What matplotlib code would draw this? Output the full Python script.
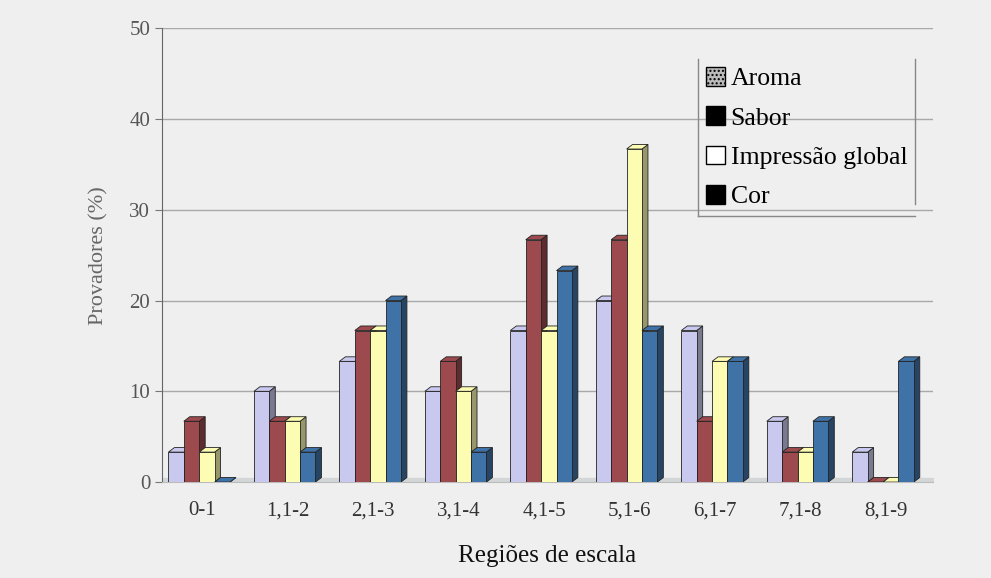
import numpy as np
import matplotlib.pyplot as plt
from matplotlib.patches import Polygon, Patch
from matplotlib.lines import Line2D
import matplotlib.colors as mcolors

# data
regioes = ['0-1', '1,1-2', '2,1-3', '3,1-4', '4,1-5', '5,1-6', '6,1-7', '7,1-8', '8,1-9']
aroma = [3.3, 10.0, 13.3, 10.0, 16.7, 20.0, 16.7, 6.7, 3.3]
sabor = [6.7, 6.7, 16.7, 13.3, 26.7, 26.7, 6.7, 3.3, 0.0]
impressao = [3.3, 6.7, 16.7, 10.0, 16.7, 36.7, 13.3, 3.3, 0.0]
cor = [0.0, 3.3, 20.0, 3.3, 23.3, 16.7, 13.3, 6.7, 13.3]
series_names = ['Aroma', 'Sabor', 'Impressão global', 'Cor']

plt.rcParams['font.family'] = ['Liberation Serif', 'DejaVu Serif']

bg = '#efefef'
fig = plt.figure(figsize=(9.91, 5.78), dpi=100, facecolor=bg)
ax = fig.add_axes([0.1635, 0.166, 0.778, 0.785], facecolor=bg)

colors = ['#c9c9f0', '#9c4a4e', '#fcfcb2', '#3f73a8']
series = [aroma, sabor, impressao, cor]
x = np.arange(len(regioes))
w = 0.18
dx, dy = 0.07, 0.5

for i, (vals, c) in enumerate(zip(series, colors)):
    x0 = x - 2 * w + i * w - dx / 2
    dark = np.array(mcolors.to_rgb(c)) * 0.6
    for xs, h in zip(x0, vals):
        z = 3 + i
        side = Polygon([(xs + w, 0), (xs + w + dx, dy), (xs + w + dx, h + dy), (xs + w, h)],
                       closed=True, facecolor=dark, edgecolor='#222222', lw=0.6, zorder=z)
        top = Polygon([(xs, h), (xs + dx, h + dy), (xs + w + dx, h + dy), (xs + w, h)],
                      closed=True, facecolor=c, edgecolor='#222222', lw=0.6, zorder=z)
        ax.add_patch(side)
        ax.add_patch(top)
    ax.bar(x0, vals, width=w, align='edge', color=c, edgecolor='#222222',
           linewidth=0.6, zorder=3 + i + 0.01)

# floor
ax.fill_between([-0.47, 8.55], [0, 0], [0.5, 0.5], color='#d2d6d6', zorder=2)

ax.set_xlim(-0.47, 8.55)
ax.set_ylim(0, 50)
ax.set_yticks([0, 10, 20, 30, 40, 50])
ax.set_xticks(x)
ax.set_xticklabels(regioes, fontsize=15, color='#333333')
ax.tick_params(axis='y', labelsize=15, labelcolor='#555555', length=5, color='#777777')
ax.tick_params(axis='x', length=0, pad=14)
ax.yaxis.grid(True, color='#a8a8a8', linewidth=1.0, zorder=1)
ax.set_axisbelow(True)
for s in ['top', 'right']:
    ax.spines[s].set_visible(False)
ax.spines['left'].set_color('#666666')
ax.spines['bottom'].set_color('#bbbbbb')

ax.set_ylabel('Provadores (%)', fontsize=16, color='#666666', labelpad=15)
ax.set_xlabel('Regiões de escala', fontsize=18, color='#111111', labelpad=18)

handles = [Patch(facecolor='#bbbbbb', edgecolor='black', hatch='....'),
           Patch(facecolor='black', edgecolor='black'),
           Patch(facecolor='white', edgecolor='black'),
           Patch(facecolor='black', edgecolor='black')]
leg = ax.legend(handles, series_names, loc='upper left', bbox_to_anchor=(0.679, 0.96),
                fontsize=18.5, frameon=False, handlelength=0.75,
                handleheight=0.75, handletextpad=0.2, labelspacing=0.62, borderpad=0.3)
leg.set_zorder(10)

# legend box: left, right and bottom lines only
fig.canvas.draw()
bb = leg.get_window_extent().transformed(fig.transFigure.inverted())
for xs, ys in [([bb.x0, bb.x0], [bb.y0, bb.y1]),
               ([bb.x1, bb.x1], [bb.y0 + 0.02, bb.y1]),
               ([bb.x0, bb.x1], [bb.y0, bb.y0])]:
    fig.add_artist(Line2D(xs, ys, color='#888888', lw=1.0))

fig.savefig('out.png', dpi=100, facecolor=bg)
